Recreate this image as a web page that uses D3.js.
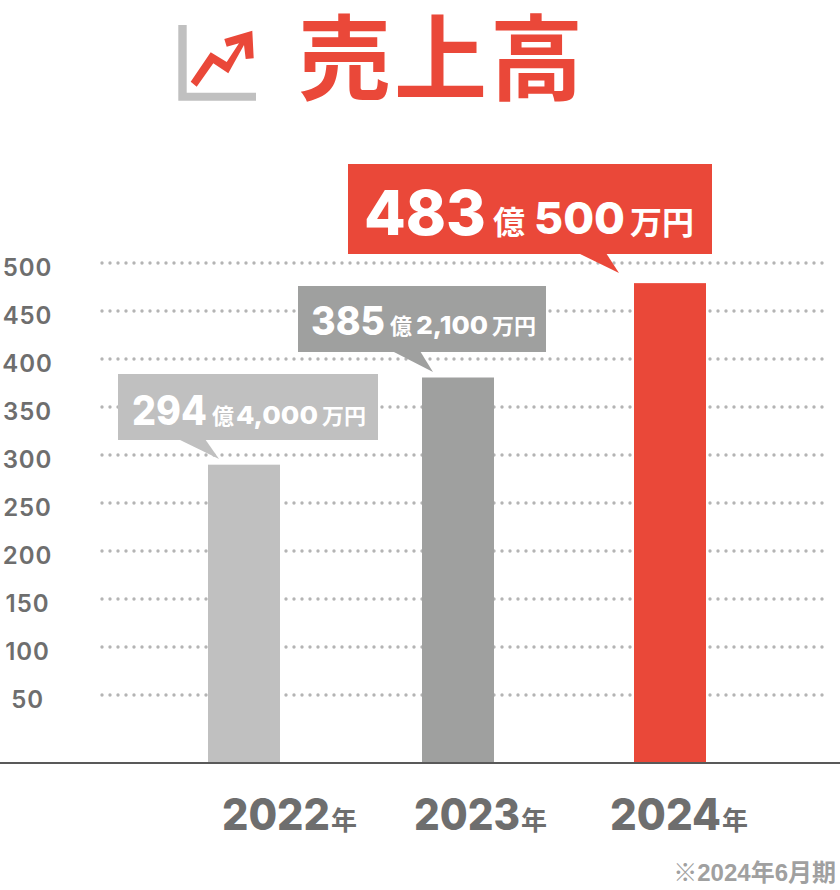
<!DOCTYPE html>
<html lang="ja">
<head>
<meta charset="utf-8">
<title>売上高</title>
<script src="https://cdn.jsdelivr.net/npm/d3@7"></script>
<style>
html, body { margin: 0; padding: 0; background: #fff; }
svg { display: block; }
text { font-family: Inter, "Noto Sans CJK JP", sans-serif; }
.jp { font-family: "Noto Sans CJK JP", sans-serif; font-weight: 700; }
</style>
</head>
<body>
<svg id="chart" width="840" height="890"></svg>
<script>
var years = ['2022', '2023', '2024'];
var sales = [294.4, 385.21, 483.5];
var ticks = [50, 100, 150, 200, 250, 300, 350, 400, 450, 500];
var okuLabels = ['294', '385', '483'];
var manLabels = ['4,000', '2,100', '500'];
var barColors = ['#c0c0c0', '#9fa09f', '#ea4839'];

var RED = '#ea4839', TEXT = '#6e6e6e';
var svg = d3.select('#chart');

// the dotted grid and the bars sit on slightly different baselines in the original
var yGrid = d3.scaleLinear().domain([0, 500]).range([743, 263]);
var yBar = d3.scaleLinear().domain([0, 500]).range([747.3, 267.3]);
var xBar = d3.scaleOrdinal().domain(years).range([208, 422, 634]);
var color = d3.scaleOrdinal().domain(years).range(barColors);
var barW = 72, baseY = 763;

// title + icon
var icon = svg.append('g');
icon.append('path').attr('d', 'M178.300 25H186.700V92.700H256V100.700H178.300Z').attr('fill', '#c0c0c0');
icon.append('path').attr('d', 'M190.700 81.700L210.700 52.300L226.700 62L239 43.300L226.700 46.700L224.300 39L252.300 30.700L253.700 58.300L245.700 59L244 45L228.300 73.300L213.300 63.300L196.700 86.700Z').attr('fill', RED);
svg.append('text').attr('class', 'jp').attr('x', 298).attr('y', 93)
	.attr('font-size', 93).attr('letter-spacing', 3).attr('fill', RED).text('売上高');

// grid
svg.append('g').selectAll('line').data(ticks).enter().append('line')
	.attr('x1', 102).attr('x2', 826)
	.attr('y1', function(d){ return yGrid(d); })
	.attr('y2', function(d){ return yGrid(d); })
	.attr('stroke', '#b4b4b4').attr('stroke-width', 3.4)
	.attr('stroke-linecap', 'round').attr('stroke-dasharray', '0 8');

// left axis
var axis = d3.axisLeft(yGrid).tickValues(ticks).tickSize(0).tickPadding(0);
var axisG = svg.append('g').attr('transform', 'translate(52,0)').call(axis);
axisG.select('.domain').remove();
axisG.selectAll('text')
	.attr('text-anchor', 'middle').attr('x', -24.500).attr('dy', '0.35em')
	.attr('y', 4)
	.attr('font-size', 24).attr('font-weight', 600).attr('fill', TEXT)
	.attr('letter-spacing', 0.9)
	.style('font-family', 'Inter');

// bars
svg.append('g').selectAll('rect').data(sales).enter().append('rect')
	.attr('x', function(d, i){ return xBar(years[i]); })
	.attr('y', function(d){ return yBar(d); })
	.attr('width', barW)
	.attr('height', function(d){ return baseY - yBar(d); })
	.attr('fill', function(d, i){ return color(years[i]); });

// baseline
svg.append('rect').attr('x', 0).attr('y', 762).attr('width', 840).attr('height', 2).attr('fill', '#595959');

// x labels
var yearX = d3.scaleOrdinal().domain(years).range([222, 414, 610]);
var yearW = d3.scaleOrdinal().domain(years).range([108, 106, 111]);
var yearG = svg.append('g').selectAll('g').data(years).enter().append('g');
yearG.append('text')
	.attr('x', function(d){ return yearX(d); }).attr('y', 830)
	.attr('font-size', 44).attr('font-weight', 800).attr('fill', TEXT)
	.attr('textLength', function(d){ return yearW(d); }).attr('lengthAdjust', 'spacingAndGlyphs')
	.text(function(d){ return d; });
yearG.append('text').attr('class', 'jp')
	.attr('x', function(d){ return yearX(d) + yearW(d) + 1; }).attr('y', 830)
	.attr('font-size', 26).attr('fill', TEXT).text('年');

// callouts
var boxes = [
	{x: 118, y: 374, w: 260, h: 66, tail: [178, 205, 219, 459]},
	{x: 298, y: 286, w: 248, h: 66, tail: [392, 420, 433, 372]},
	{x: 348, y: 164, w: 364, h: 90, tail: [578, 606, 619, 273]}
];
var parts = [
	{base: 425, big: 41, mid: 25, jp: 22, pos: [132, 75, 212, 236, 82, 322]},
	{base: 335, big: 39, mid: 25, jp: 22, pos: [311, 74, 390, 416, 72, 492]},
	{base: 235, big: 62, mid: 44, jp: 32, pos: [364, 122, 493, 534, 91, 630]}
];
boxes.forEach(function(b, i){
	var p = parts[i], g = svg.append('g');
	var c = color(years[i]);
	g.append('rect').attr('x', b.x).attr('y', b.y).attr('width', b.w).attr('height', b.h).attr('fill', c);
	var bot = b.y + b.h;
	g.append('path').attr('d', 'M' + b.tail[0] + ' ' + (bot - 1) + 'L' + b.tail[1] + ' ' + (bot - 1) + 'L' + b.tail[2] + ' ' + b.tail[3] + 'Z').attr('fill', c);
	g.append('text').attr('x', p.pos[0]).attr('y', p.base).attr('font-size', p.big).attr('font-weight', 800).attr('fill', '#fff')
		.attr('textLength', p.pos[1]).attr('lengthAdjust', 'spacingAndGlyphs').text(okuLabels[i]);
	g.append('text').attr('class', 'jp').attr('x', p.pos[2]).attr('y', p.base - 1).attr('font-size', p.jp).attr('fill', '#fff').text('億');
	g.append('text').attr('x', p.pos[3]).attr('y', p.base - 1).attr('font-size', p.mid).attr('font-weight', 800).attr('fill', '#fff')
		.attr('textLength', p.pos[4]).attr('lengthAdjust', 'spacingAndGlyphs').text(manLabels[i]);
	g.append('text').attr('class', 'jp').attr('x', p.pos[5]).attr('y', p.base - 1).attr('font-size', p.jp).attr('fill', '#fff').text('万円');
});

// note
svg.append('text').attr('x', 836).attr('y', 881).attr('text-anchor', 'end')
	.attr('font-size', 24).attr('font-weight', 700).attr('fill', '#a0a0a0')
	.style('font-family', '"Liberation Sans", "Noto Sans CJK JP", sans-serif')
	.text('※2024年6月期');
</script>
</body>
</html>
